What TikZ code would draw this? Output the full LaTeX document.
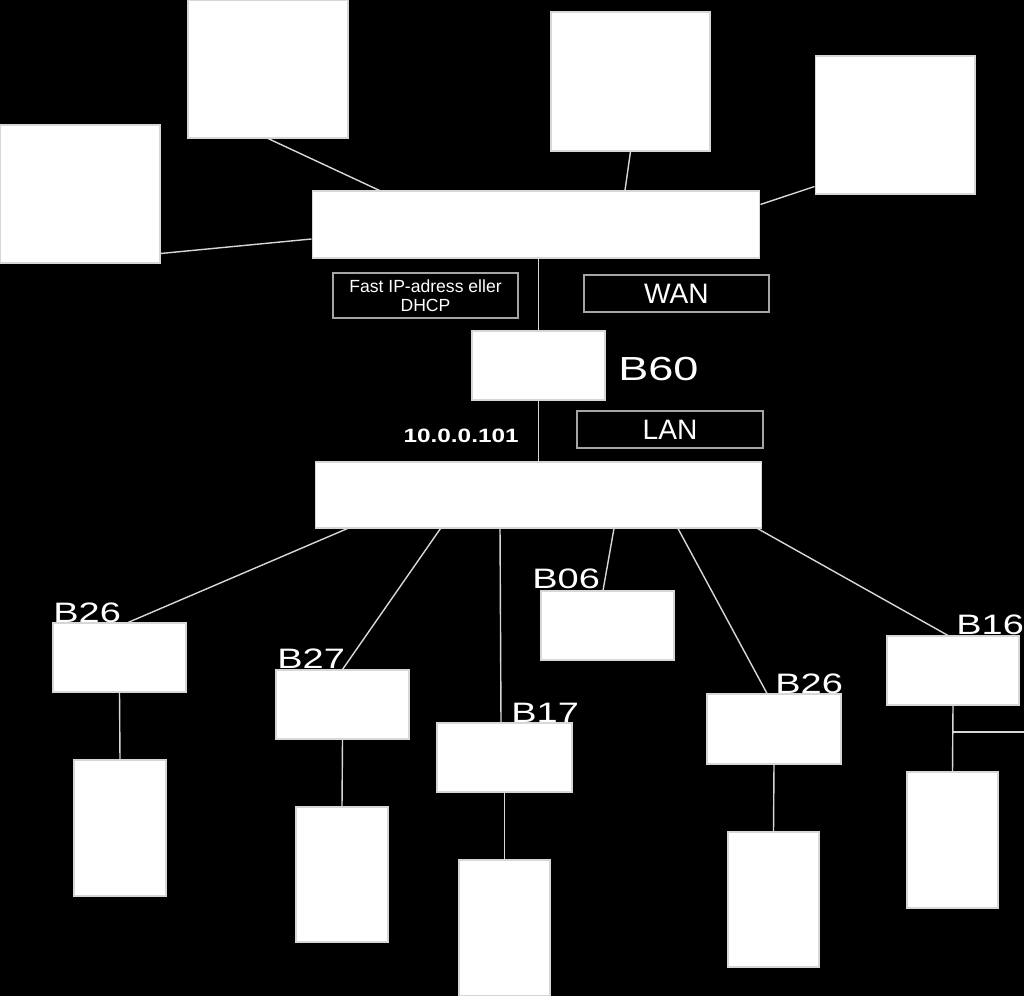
\documentclass[tikz,border=0pt]{standalone}
\usepackage{fontspec}
\setmainfont{Liberation Sans}
\newfontfamily\widefont[FakeStretch=1.35]{Liberation Sans}
\newfontfamily\ipfont[FakeStretch=1.26]{Liberation Sans}
\definecolor{wirec}{RGB}{215,215,215}
\definecolor{framec}{RGB}{165,165,165}
\tikzset{
  blank/.style={draw=wirec, fill=white, line width=0.6pt, inner sep=0pt},
  tag/.style={draw=framec, fill=black, text=white, line width=0.6pt, inner sep=0pt},
  blabel/.style={text=white, inner sep=0pt, anchor=base west, font=\widefont\fontsize{16}{16}\selectfont},
  wire/.style={draw=wirec, line width=0.8pt}
}
\begin{document}
\begin{tikzpicture}[x=0.02cm, y=-0.02cm]
\fill[black] (0,0) rectangle (1024,996);
\useasboundingbox (0,0) rectangle (1024,996);

% top
\node[blank, minimum width=3.2cm, minimum height=2.76cm] (dev1) at (268,69) {};
\node[blank, minimum width=3.2cm, minimum height=2.76cm] (dev2) at (80,194) {};
\node[blank, minimum width=3.18cm, minimum height=2.78cm] (dev3) at (630.5,81.5) {};
\node[blank, minimum width=3.2cm, minimum height=2.76cm] (dev4) at (895,125) {};
\node[blank, minimum width=8.96cm, minimum height=1.34cm] (hubtop) at (536,224.5) {};

\draw[wire] (dev1.south) -- ([xshift=1.36cm]hubtop.north west);
\draw[wire] ([yshift=0.2cm]dev2.south east) -- ([yshift=-0.29cm]hubtop.west);
\draw[wire] (dev3.south) -- ([xshift=1.78cm]hubtop.north);
\draw[wire] ([yshift=0.16cm]dev4.south west) -- ([yshift=-0.28cm]hubtop.north east);

% router
\node[tag, minimum width=3.7cm, minimum height=0.9cm, align=center,
  font=\fontsize{10}{10.8}\selectfont] (ip) at (425.5,295.5) {Fast IP-adress eller\\DHCP};
\node[tag, minimum width=3.7cm, minimum height=0.74cm,
  font=\fontsize{16}{16}\selectfont] (wan) at (676.5,293.5) {WAN};
\node[blank, minimum width=2.66cm, minimum height=1.38cm] (b60) at (538.5,365.5) {};
\node[text=white, inner sep=0pt, anchor=base west,
  font=\widefont\fontsize{19}{19}\selectfont] (b60name) at (618,381) {B60};
\node[tag, minimum width=3.72cm, minimum height=0.74cm,
  font=\fontsize{16}{16}\selectfont] (lan) at (670,429.5) {LAN};
\node[text=white, inner sep=0pt, anchor=base east,
  font=\ipfont\bfseries\fontsize{11}{11}\selectfont] (addr) at (519,443) {10.0.0.101};
\node[blank, minimum width=8.94cm, minimum height=1.32cm] (hubbot) at (538.5,495) {};

\draw[wire] (b60.north |- hubtop.south) -- (b60.north);
\draw[wire] (b60.south) -- (b60.south |- hubbot.north);

% rooms
\node[blank, minimum width=2.66cm, minimum height=1.38cm] (b26a) at (119.5,657.5) {};
\node[blank, minimum width=2.66cm, minimum height=1.38cm] (b27) at (342.5,704.5) {};
\node[blank, minimum width=2.7cm, minimum height=1.38cm] (b17) at (504.5,757.5) {};
\node[blank, minimum width=2.66cm, minimum height=1.38cm] (b06) at (607.5,625.5) {};
\node[blank, minimum width=2.68cm, minimum height=1.4cm] (b26b) at (774,729) {};
\node[blank, minimum width=2.64cm, minimum height=1.38cm] (b16) at (953,670.5) {};

\node[blabel] (b26aname) at (53,622) {B26};
\node[blabel] (b27name) at (277,668) {B27};
\node[blabel] (b17name) at (511,722) {B17};
\node[blabel] (b06name) at (532,588) {B06};
\node[blabel] (b26bname) at (775,693) {B26};
\node[blabel] (b16name) at (956,634) {B16};

\node[blank, minimum width=1.84cm, minimum height=2.72cm] (pc1) at (120,828) {};
\node[blank, minimum width=1.84cm, minimum height=2.7cm] (pc2) at (342,874.5) {};
\node[blank, minimum width=1.82cm, minimum height=2.72cm] (pc3) at (504.5,928) {};
\node[blank, minimum width=1.82cm, minimum height=2.7cm] (pc4) at (773.5,899.5) {};
\node[blank, minimum width=1.82cm, minimum height=2.72cm] (pc5) at (952.5,840) {};

\draw[wire] ([xshift=0.66cm]hubbot.south west) -- ([xshift=0.17cm]b26a.north);
\draw[wire] ([xshift=2.52cm]hubbot.south west) -- (b27.north);
\draw[wire] ([xshift=-0.77cm]hubbot.south) -- ([xshift=-0.07cm]b17.north);
\draw[wire] ([xshift=1.51cm]hubbot.south) -- ([xshift=-0.09cm]b06.north);
\draw[wire] ([xshift=2.79cm]hubbot.south) -- ([xshift=-0.14cm]b26b.north);
\draw[wire] ([xshift=-0.1cm]hubbot.south east) -- ([xshift=-0.1cm]b16.north);

\draw[wire] (b26a.south) -- (pc1.north);
\draw[wire] (b27.south) -- (pc2.north);
\draw[wire] (b17.south) -- (pc3.north);
\draw[wire] (b26b.south) -- (pc4.north);
\draw[wire] (b16.south) -- (pc5.north);

\coordinate (edge) at (1024,732);
\draw[wire] (b16.south |- edge) -- (edge);
\end{tikzpicture}
\end{document}
